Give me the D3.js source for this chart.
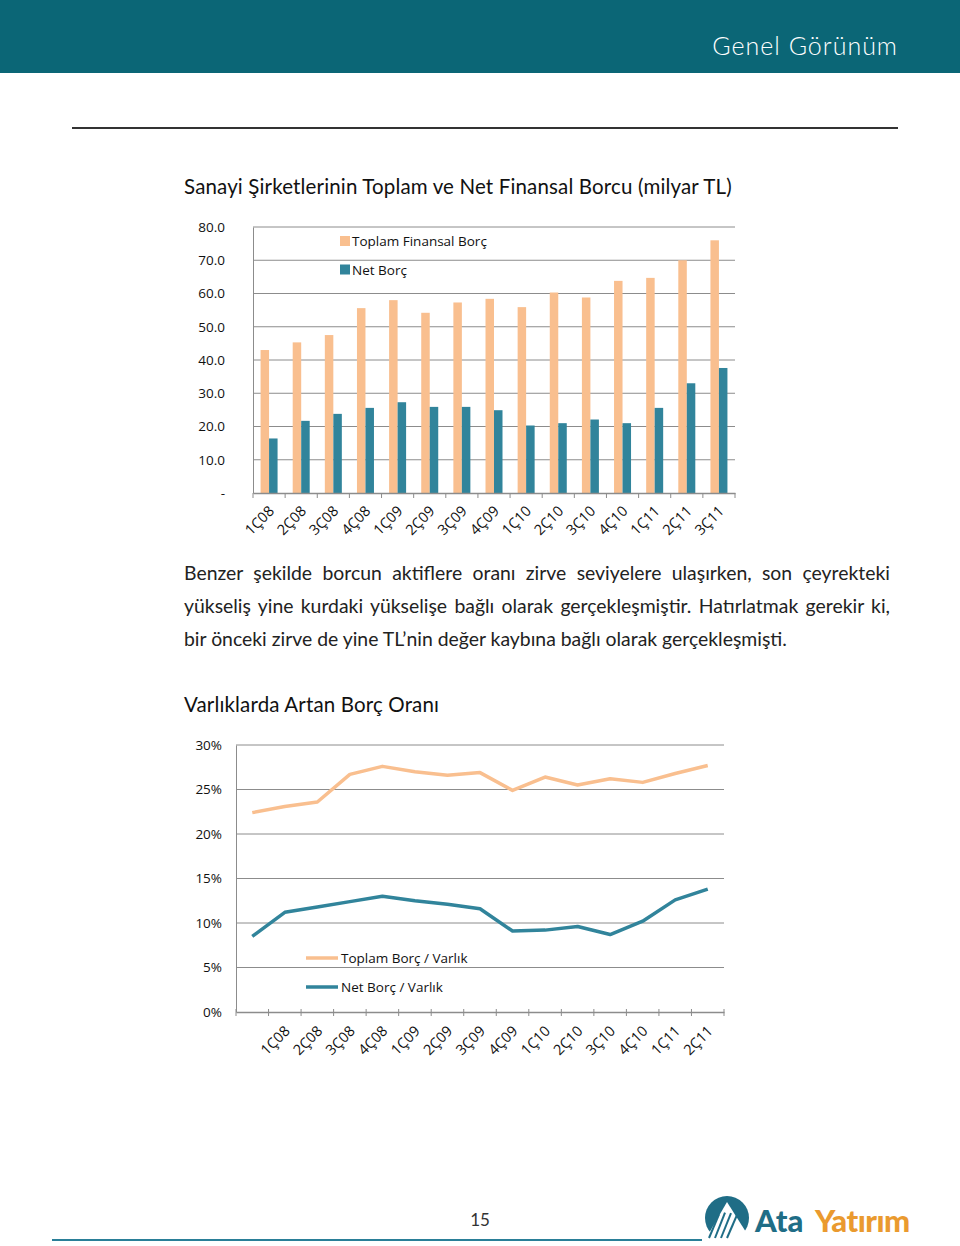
<!DOCTYPE html>
<html>
<head>
<meta charset="utf-8">
<script src="https://cdn.jsdelivr.net/npm/d3@7"></script>
<style>
  html, body { margin: 0; padding: 0; background: #fff; }
  body { width: 960px; height: 1246px; position: relative; overflow: hidden; font-family: Lato, "Open Sans", sans-serif; }
  #para { position: absolute; left: 184px; top: 556px; width: 706px; font-size: 19.4px; line-height: 33px; color: #222; text-align: justify; font-family: Lato, sans-serif; }
  svg { position: absolute; left: 0; top: 0; }
</style>
</head>
<body>
<svg id="page" width="960" height="1246"></svg>
<div id="para">Benzer şekilde borcun aktiflere oranı zirve seviyelere ulaşırken, son çeyrekteki yükseliş yine kurdaki yükselişe bağlı olarak gerçekleşmiştir. Hatırlatmak gerekir ki, bir önceki zirve de yine TL’nin değer kaybına bağlı olarak gerçekleşmişti.</div>
<script>
// ---------- data ----------
const quarters = ["1Ç08","2Ç08","3Ç08","4Ç08","1Ç09","2Ç09","3Ç09","4Ç09","1Ç10","2Ç10","3Ç10","4Ç10","1Ç11","2Ç11","3Ç11"];
const toplamBorc = [43.0,45.3,47.5,55.6,58.0,54.2,57.3,58.4,55.9,60.3,58.8,63.8,64.7,70.0,76.0];
const netBorc = [16.4,21.7,23.8,25.6,27.3,25.9,25.9,24.9,20.3,21.0,22.1,21.0,25.6,33.0,37.6];
const barTicks = [0,10,20,30,40,50,60,70,80];
const barSeries = ["Toplam Finansal Borç","Net Borç"];

const lineCategories = ["","1Ç08","2Ç08","3Ç08","4Ç08","1Ç09","2Ç09","3Ç09","4Ç09","1Ç10","2Ç10","3Ç10","4Ç10","1Ç11","2Ç11"];
const toplamVarlik = [22.4,23.1,23.6,26.7,27.6,27.0,26.6,26.9,24.9,26.4,25.5,26.2,25.8,26.8,27.7];
const netVarlik = [8.5,11.2,11.8,12.4,13.0,12.5,12.1,11.6,9.1,9.2,9.6,8.7,10.2,12.6,13.8];
const lineTicks = [0,5,10,15,20,25,30];
const lineSeries = ["Toplam Borç / Varlık","Net Borç / Varlık"];

const ORANGE = "#f9bf8f", TEAL = "#31849b", TEAL_DARK = "#0b6676", GRID = "#8c8c8c";
const svg = d3.select("#page");

// ---------- header ----------
svg.append("rect").attr("x",0).attr("y",0).attr("width",960).attr("height",73).attr("fill",TEAL_DARK);
svg.append("text").attr("x",898).attr("y",55).attr("text-anchor","end").attr("fill","#fff")
  .attr("font-family","Lato, sans-serif").attr("font-size",25).attr("font-weight",300).attr("letter-spacing",1).text("Genel Görünüm");
svg.append("line").attr("x1",72).attr("x2",898).attr("y1",128).attr("y2",128).attr("stroke","#333").attr("stroke-width",2);

// ---------- titles ----------
svg.append("text").attr("x",184).attr("y",194).attr("font-size",20.5).attr("letter-spacing",0.15).attr("fill","#111").attr("font-family","Lato, sans-serif")
  .text("Sanayi Şirketlerinin Toplam ve Net Finansal Borcu (milyar TL)");
svg.append("text").attr("x",184).attr("y",712).attr("font-size",20.5).attr("letter-spacing",0.15).attr("fill","#111").attr("font-family","Lato, sans-serif")
  .text("Varlıklarda Artan Borç Oranı");

const tickFont = "'Open Sans', sans-serif";

// ---------- bar chart ----------
(function(){
  const L = 253, R = 735, T = 227, B = 493;
  const x = d3.scaleBand().domain(quarters).range([L,R]);
  const y = d3.scaleLinear().domain([0,80]).range([B,T]);
  const g = svg.append("g");
  g.selectAll(".grid").data(barTicks.filter(d=>d>0)).join("line")
    .attr("x1",L).attr("x2",R).attr("y1",d=>y(d)).attr("y2",d=>y(d)).attr("stroke",GRID).attr("stroke-width",1);
  const ya = g.append("g").attr("transform",`translate(${L},0)`)
    .call(d3.axisLeft(y).tickValues(barTicks).tickSize(0).tickPadding(28).tickFormat(d=> d===0 ? "-" : d3.format(".1f")(d)));
  ya.select(".domain").attr("stroke",GRID);
  ya.selectAll("text").attr("font-family",tickFont).attr("font-size",13.5).attr("fill","#111");
  const bw = 8.5;
  g.selectAll(".b1").data(quarters).join("rect")
    .attr("x",d=>x(d)+x.bandwidth()/2-bw).attr("width",bw)
    .attr("y",(d,i)=>y(toplamBorc[i])).attr("height",(d,i)=>B-y(toplamBorc[i])).attr("fill",ORANGE);
  g.selectAll(".b2").data(quarters).join("rect")
    .attr("x",d=>x(d)+x.bandwidth()/2).attr("width",bw)
    .attr("y",(d,i)=>y(netBorc[i])).attr("height",(d,i)=>B-y(netBorc[i])).attr("fill",TEAL);
  const xa = g.append("g").attr("transform",`translate(0,${B})`).call(d3.axisBottom(x).tickSize(0).tickPadding(0));
  xa.select(".domain").attr("stroke",GRID).attr("stroke-width",1.5);
  xa.selectAll("text").attr("font-family",tickFont).attr("font-size",14.5).attr("fill","#111")
    .attr("text-anchor","end").attr("dy",0).attr("transform",`translate(6,19) rotate(-45)`);
  g.selectAll(".xt").data(d3.range(quarters.length+1)).join("line")
    .attr("x1",i=>L+i*x.step()).attr("x2",i=>L+i*x.step()).attr("y1",B).attr("y2",B+5).attr("stroke",GRID);
  const lg = g.append("g");
  barSeries.forEach((s,i)=>{
    lg.append("rect").attr("x",340).attr("y",236+i*28.5).attr("width",10).attr("height",10).attr("fill",i?TEAL:ORANGE);
    lg.append("text").attr("x",352).attr("y",246+i*28.5).attr("font-family",tickFont).attr("font-size",13.5).attr("fill","#111").text(s);
  });
})();

// ---------- line chart ----------
(function(){
  const L = 236, R = 724, T = 745, B = 1012;
  const x = d3.scaleBand().domain(d3.range(lineCategories.length)).range([L,R]);
  const y = d3.scaleLinear().domain([0,30]).range([B,T]);
  const g = svg.append("g");
  g.selectAll(".grid").data(lineTicks.filter(d=>d>0)).join("line")
    .attr("x1",L).attr("x2",R).attr("y1",d=>y(d)).attr("y2",d=>y(d)).attr("stroke",GRID).attr("stroke-width",1);
  const ya = g.append("g").attr("transform",`translate(${L},0)`)
    .call(d3.axisLeft(y).tickValues(lineTicks).tickSize(0).tickPadding(14).tickFormat(d=>d+"%"));
  ya.select(".domain").attr("stroke",GRID);
  ya.selectAll("text").attr("font-family",tickFont).attr("font-size",13.5).attr("fill","#111");
  const xa = g.append("g").attr("transform",`translate(0,${B})`)
    .call(d3.axisBottom(x).tickSize(0).tickPadding(0).tickFormat(i=>lineCategories[i]));
  xa.select(".domain").attr("stroke",GRID).attr("stroke-width",1.5);
  xa.selectAll("text").attr("font-family",tickFont).attr("font-size",14.5).attr("fill","#111")
    .attr("text-anchor","end").attr("dy",0).attr("transform",`translate(6,20) rotate(-45)`);
  g.selectAll(".xt").data(d3.range(lineCategories.length+1)).join("line")
    .attr("x1",i=>L+i*x.step()).attr("x2",i=>L+i*x.step()).attr("y1",B-3).attr("y2",B+4).attr("stroke",GRID);
  const line = d3.line().x((d,i)=>x(i)+x.bandwidth()/2).y(d=>y(d));
  g.append("path").datum(toplamVarlik).attr("d",line).attr("fill","none").attr("stroke",ORANGE).attr("stroke-width",3.5).attr("stroke-linejoin","round");
  g.append("path").datum(netVarlik).attr("d",line).attr("fill","none").attr("stroke",TEAL).attr("stroke-width",3.5).attr("stroke-linejoin","round");
  lineSeries.forEach((s,i)=>{
    g.append("line").attr("x1",306).attr("x2",338).attr("y1",958+i*29).attr("y2",958+i*29).attr("stroke",i?TEAL:ORANGE).attr("stroke-width",3.5);
    g.append("text").attr("x",341).attr("y",963+i*29).attr("font-family",tickFont).attr("font-size",13.5).attr("fill","#111").text(s);
  });
})();

// ---------- footer ----------
svg.append("text").attr("x",480).attr("y",1226).attr("text-anchor","middle").attr("font-family","Lato, sans-serif").attr("font-size",17).attr("fill","#333").text("15");
svg.append("line").attr("x1",52).attr("x2",702).attr("y1",1240).attr("y2",1240).attr("stroke","#2a7f98").attr("stroke-width",2);
const logo = svg.append("g").attr("transform","translate(727,1218)");
logo.append("circle").attr("r",22).attr("fill","#1f6d86");
logo.append("path").attr("d","M-22,22 L0,-16 L24,22 Z").attr("fill","#fff");
[-8,-2,4,10].forEach(o=>logo.append("line").attr("x1",o).attr("y1",-6+Math.abs(o)*0.3).attr("x2",o-10).attr("y2",20).attr("stroke","#1f6d86").attr("stroke-width",2));
svg.append("text").attr("x",755).attr("y",1232).attr("font-family","Lato, sans-serif").attr("font-weight",900).attr("font-size",31).attr("fill","#1f6d86").text("Ata");
svg.append("text").attr("x",815).attr("y",1232).attr("font-family","Lato, sans-serif").attr("font-weight",900).attr("font-size",31).attr("fill","#ea9a2f").attr("letter-spacing",-0.5).text("Yatırım");
</script>
</body>
</html>
